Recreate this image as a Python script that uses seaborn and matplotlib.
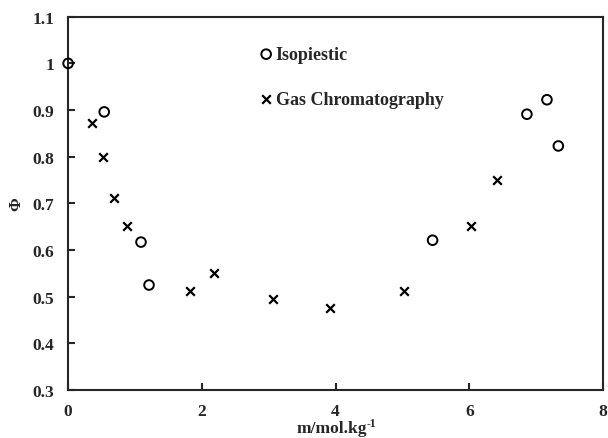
import numpy as np
import matplotlib
matplotlib.use("Agg")
import matplotlib.pyplot as plt
import seaborn as sns

# values
iso_m = [0.0, 0.54, 1.09, 1.21, 5.45, 6.86, 7.16, 7.33]
iso_phi = [1.0, 0.896, 0.617, 0.525, 0.621, 0.891, 0.922, 0.823]

gc_m = [0.35, 0.52, 0.69, 0.88, 1.82, 2.18, 3.07, 3.91, 5.02, 6.03, 6.42]
gc_phi = [0.873, 0.800, 0.712, 0.651, 0.513, 0.550, 0.496, 0.475, 0.513, 0.652, 0.749]

x_ticks = [0, 2, 4, 6, 8]
y_ticks = [0.3, 0.4, 0.5, 0.6, 0.7, 0.8, 0.9, 1.0, 1.1]
y_labels = ["0.3", "0.4", "0.5", "0.6", "0.7", "0.8", "0.9", "1", "1.1"]

sns.set_style("ticks")
plt.rcParams["font.family"] = ["Liberation Serif", "DejaVu Serif"]
plt.rcParams["font.weight"] = "bold"

fig = plt.figure(figsize=(6.08, 4.39), dpi=100)
ax = fig.add_axes([0.112, 0.1093, 0.880, 0.8504])

sns.scatterplot(x=iso_m, y=iso_phi, marker="o", s=48, facecolors="none",
                edgecolor="black", linewidth=1.4, label="Isopiestic", ax=ax,
                clip_on=False, zorder=3)
sns.scatterplot(x=gc_m, y=gc_phi, marker="x", s=38, color="black",
                linewidth=1.6, label="Gas Chromatography", ax=ax, zorder=3)

ax.set_xlim(0, 8)
ax.set_ylim(0.3, 1.1)
ax.set_xticks(x_ticks)
ax.set_yticks(y_ticks)
ax.set_yticklabels(y_labels)
ax.tick_params(direction="in", length=5, width=1.5, labelsize=12.5)
ax.tick_params(axis="y", pad=10)
ax.tick_params(axis="x", pad=9)
for t in ax.get_xticklabels() + ax.get_yticklabels():
    t.set_fontweight("bold")
for sp in ax.spines.values():
    sp.set_linewidth(1.5)
    sp.set_visible(True)

# x label with a small hand-placed superscript
ax.set_xlabel("m/mol.kg", fontsize=12.5, fontweight="bold")
ax.xaxis.set_label_coords(0.492, -0.079)
ax.annotate("-1", xy=(1, 1), xycoords=ax.xaxis.label, xytext=(0.3, 1.5),
            textcoords="offset points", ha="left", va="top",
            fontsize=8.5, fontweight="bold")
ax.set_ylabel("Φ", fontsize=12, fontweight="bold", labelpad=6)

ax.legend(loc="upper left", bbox_to_anchor=(0.344, 0.946), frameon=False,
          fontsize=13, handlelength=0.55, handletextpad=0.25, labelspacing=1.55,
          borderpad=0)

fig.savefig("out.png", dpi=100)
